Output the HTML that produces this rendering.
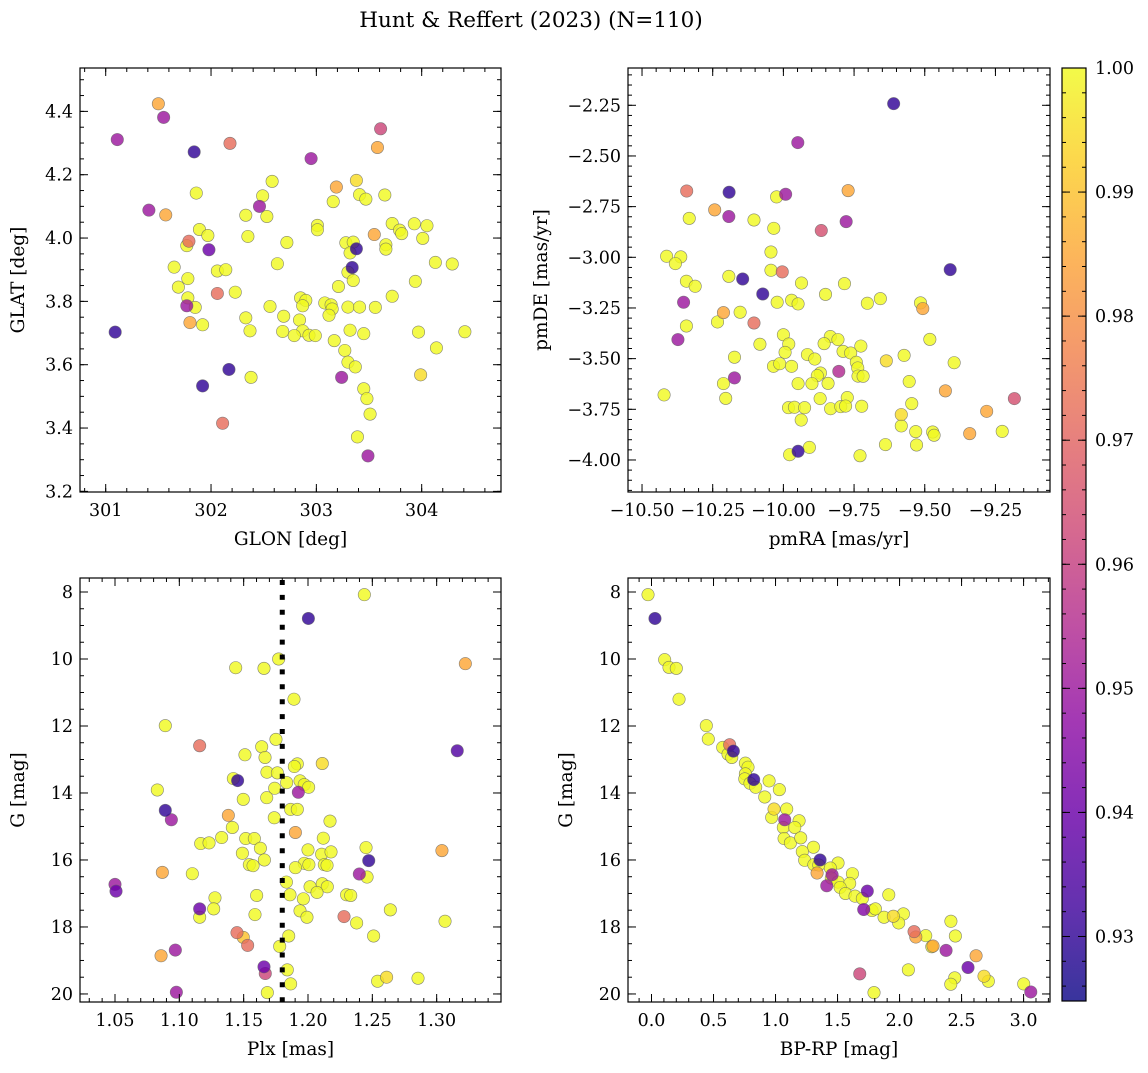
<!DOCTYPE html>
<html><head><meta charset="utf-8"><style>
html,body{margin:0;padding:0;background:#fff;}
svg text{font-family:"DejaVu Serif","Liberation Serif",serif;fill:#000;}
</style></head><body>
<svg id="fig" width="1148" height="1068" viewBox="0 0 1148 1068" xmlns="http://www.w3.org/2000/svg">
<rect width="1148" height="1068" fill="#fff"/>
<text x="531" y="27" font-size="21.5" text-anchor="middle">Hunt &amp; Reffert (2023) (N=110)</text>
<defs><linearGradient id="cmap" x1="0" y1="1" x2="0" y2="0"></linearGradient></defs>
</svg>
<script>
// ---- Panel 1: sky positions ----
const glon=[301.50,301.55,301.11,301.84,302.18,303.61,303.58,302.95,302.58,301.86,303.38,303.19,302.49,303.41,303.47,303.65,303.16,302.46,301.41,301.57,302.33,302.53,303.01,303.01,303.72,303.93,304.05,303.79,303.81,301.89,301.97,302.35,303.55,304.01,301.79,301.77,302.72,303.28,303.35,303.38,303.32,303.66,303.66,301.98,301.65,302.63,304.13,304.29,303.34,303.30,303.35,302.06,302.14,301.78,301.69,303.21,303.94,302.06,302.23,301.78,301.77,301.85,303.72,302.85,302.90,302.87,302.56,303.08,303.14,303.15,303.12,303.30,303.41,303.56,302.33,302.69,302.84,301.80,301.92,301.09,302.37,302.68,302.87,302.79,302.93,302.99,303.32,303.45,303.97,304.41,303.17,303.27,304.14,303.30,303.37,302.17,301.92,302.38,303.24,303.99,303.45,303.48,303.51,302.11,303.39,303.49];
const glat=[4.424,4.381,4.311,4.272,4.299,4.345,4.286,4.251,4.179,4.142,4.182,4.161,4.133,4.137,4.123,4.136,4.115,4.100,4.088,4.073,4.072,4.068,4.040,4.026,4.046,4.045,4.039,4.025,4.014,4.027,4.008,4.005,4.011,3.999,3.990,3.976,3.986,3.985,3.987,3.966,3.953,3.979,3.965,3.963,3.908,3.919,3.923,3.918,3.907,3.892,3.866,3.896,3.900,3.872,3.845,3.847,3.863,3.825,3.829,3.811,3.786,3.781,3.816,3.811,3.803,3.786,3.784,3.795,3.789,3.776,3.756,3.782,3.782,3.781,3.748,3.753,3.741,3.733,3.726,3.703,3.707,3.705,3.707,3.692,3.693,3.692,3.709,3.698,3.703,3.704,3.676,3.645,3.653,3.608,3.593,3.585,3.533,3.560,3.560,3.568,3.524,3.493,3.444,3.415,3.372,3.312];
const probSky=[0.985,0.95,0.95,0.93,0.972,0.962,0.985,0.95,1,1,0.995,0.985,1,1,1,1,1,0.95,0.95,0.985,1,1,1,1,1,1,1,1,1,1,1,1,0.985,1,0.972,1,1,1,1,0.93,1,1,1,0.94,1,1,1,1,0.93,1,1,1,1,1,1,1,1,0.972,1,1,0.95,1,1,1,1,1,1,1,1,1,1,1,1,1,1,1,1,0.985,1,0.93,1,1,1,1,1,1,1,1,1,1,1,1,1,1,1,0.93,0.93,1,0.95,0.995,1,1,1,0.972,1,0.95];
// ---- Panel 2: proper motions ----
const pmra=[-9.610,-9.949,-10.342,-10.192,-9.992,-10.024,-9.771,-10.243,-10.193,-10.333,-10.104,-10.034,-9.778,-9.866,-10.044,-10.413,-10.363,-10.382,-9.410,-10.044,-10.004,-10.193,-10.144,-10.343,-10.312,-9.936,-9.784,-10.073,-9.851,-10.353,-10.022,-9.971,-9.948,-9.703,-9.657,-9.515,-9.507,-10.212,-10.153,-10.233,-10.104,-10.343,-10.373,-9.482,-10.000,-9.981,-10.083,-9.994,-9.834,-9.856,-9.807,-9.789,-9.762,-9.726,-9.915,-9.889,-10.173,-10.035,-10.013,-9.971,-9.742,-9.737,-9.636,-9.573,-9.396,-9.804,-9.869,-9.880,-9.736,-9.718,-10.173,-10.212,-9.948,-9.899,-9.842,-9.555,-10.422,-9.427,-10.204,-9.870,-9.774,-9.183,-9.546,-9.982,-9.961,-9.925,-9.833,-9.797,-9.780,-9.723,-9.281,-9.583,-9.937,-9.583,-9.532,-9.472,-9.467,-9.341,-9.226,-9.639,-9.529,-9.908,-9.948,-9.978,-9.729];
const pmde=[-2.242,-2.434,-2.673,-2.679,-2.689,-2.702,-2.671,-2.766,-2.799,-2.808,-2.816,-2.857,-2.824,-2.868,-2.974,-2.995,-2.998,-3.031,-3.061,-3.064,-3.072,-3.094,-3.107,-3.118,-3.143,-3.127,-3.130,-3.181,-3.183,-3.222,-3.222,-3.212,-3.230,-3.227,-3.204,-3.225,-3.253,-3.273,-3.271,-3.319,-3.324,-3.339,-3.406,-3.405,-3.382,-3.428,-3.429,-3.469,-3.391,-3.426,-3.406,-3.464,-3.472,-3.438,-3.480,-3.502,-3.493,-3.538,-3.525,-3.538,-3.518,-3.546,-3.511,-3.484,-3.520,-3.563,-3.571,-3.584,-3.586,-3.587,-3.595,-3.623,-3.623,-3.623,-3.622,-3.613,-3.679,-3.659,-3.696,-3.697,-3.692,-3.697,-3.722,-3.742,-3.740,-3.742,-3.747,-3.737,-3.734,-3.735,-3.760,-3.776,-3.803,-3.832,-3.860,-3.862,-3.878,-3.870,-3.859,-3.924,-3.926,-3.938,-3.957,-3.974,-3.979];
const probPm=[0.93,0.95,0.972,0.93,0.95,1,0.985,0.985,0.95,1,1,1,0.95,0.965,1,1,1,1,0.93,1,0.972,1,0.93,1,1,1,1,0.93,1,0.95,1,1,1,1,1,1,0.985,0.985,1,1,0.972,1,0.95,1,1,1,1,1,1,1,1,1,1,1,1,1,1,1,1,1,1,1,0.995,1,1,0.955,1,1,1,1,0.95,1,1,1,1,1,1,0.985,1,1,1,0.965,1,1,1,1,1,1,1,1,0.985,0.995,1,1,1,1,1,0.985,1,1,1,1,0.93,1,1];
// ---- Panel 3: parallax vs G ----
const plx=[1.2438,1.2003,1.3223,1.1438,1.1658,1.1772,1.1891,1.0891,1.1751,1.1158,1.1640,1.1510,1.1666,1.3160,1.1917,1.1894,1.2111,1.1681,1.1762,1.1420,1.1453,1.1834,1.1938,1.1971,1.2005,1.1741,1.1925,1.0829,1.1679,1.1497,1.1865,1.1917,1.0891,1.0938,1.1381,1.1738,1.2171,1.1412,1.1902,1.1329,1.1516,1.1583,1.2119,1.1166,1.1231,1.1630,1.2451,1.1490,1.2000,1.2106,1.2179,1.3041,1.1661,1.2472,1.1544,1.1573,1.1971,1.2007,1.2127,1.2148,1.1902,1.0868,1.1101,1.2399,1.2459,1.1832,1.0500,1.0508,1.2016,1.2111,1.2150,1.2070,1.2300,1.2332,1.1601,1.1860,1.1277,1.1964,1.1158,1.1267,1.2640,1.1158,1.1588,1.1938,1.1992,1.2280,1.2378,1.3065,1.2510,1.1850,1.1448,1.1497,1.1531,1.1780,1.0969,1.0858,1.1658,1.1668,1.1839,1.2541,1.2611,1.2855,1.1865,1.0977,1.1684];
const gPlx=[8.08,8.79,10.14,10.26,10.28,10.00,11.20,11.99,12.40,12.59,12.62,12.86,12.94,12.74,13.13,13.21,13.12,13.38,13.40,13.57,13.63,13.69,13.64,13.75,13.83,13.86,13.98,13.91,14.14,14.19,14.49,14.49,14.52,14.80,14.67,14.74,14.84,15.03,15.18,15.33,15.36,15.36,15.35,15.51,15.49,15.65,15.63,15.80,15.70,15.83,15.76,15.72,16.00,16.02,16.14,16.17,16.10,16.14,16.14,16.16,16.23,16.37,16.41,16.42,16.51,16.66,16.73,16.93,16.80,16.71,16.80,16.97,17.04,17.06,17.06,17.04,17.13,17.16,17.46,17.46,17.49,17.71,17.63,17.52,17.71,17.69,17.88,17.83,18.27,18.27,18.17,18.31,18.55,18.58,18.69,18.86,19.19,19.39,19.28,19.62,19.50,19.53,19.70,19.95,19.96];
const probPlx=[1,0.93,0.985,1,1,1,1,1,1,0.972,1,1,1,0.935,1,1,0.995,1,1,1,0.93,1,1,1,1,1,0.95,1,1,1,1,1,0.93,0.95,0.985,1,1,1,0.985,1,1,1,1,1,1,1,1,1,1,1,1,0.985,1,0.93,1,1,1,1,1,1,1,0.985,1,0.95,1,1,0.95,0.94,1,1,1,1,1,1,1,1,1,1,0.94,1,1,1,1,1,1,0.972,1,1,1,1,0.972,0.99,0.972,1,0.95,0.985,0.94,0.962,1,1,0.995,1,1,0.95,1];
const plxRef=[1.18];
// ---- Panel 4: CMD ----
const bprp=[-0.028,0.028,0.106,0.141,0.200,0.222,0.442,0.458,0.630,0.660,0.574,0.617,0.647,0.757,0.778,0.757,0.824,0.752,0.794,0.840,0.948,1.031,0.913,0.988,1.090,1.074,0.969,1.190,1.063,1.155,1.069,1.120,1.203,1.306,1.216,1.235,1.359,1.309,1.349,1.504,1.442,1.335,1.456,1.620,1.450,1.413,1.504,1.598,1.521,1.564,1.740,1.641,1.700,1.913,1.711,1.778,1.805,1.875,1.950,2.031,1.993,2.414,2.117,2.131,2.211,2.450,2.270,2.260,2.375,2.617,2.552,1.679,2.071,2.445,2.413,2.681,2.716,3.001,3.058,1.794];
const gCmd=[8.08,8.79,10.02,10.25,10.28,11.20,11.99,12.39,12.56,12.75,12.64,12.84,12.94,13.11,13.23,13.43,13.60,13.58,13.71,13.83,13.64,13.90,14.12,14.48,14.48,14.80,14.73,14.83,15.03,15.03,15.36,15.49,15.34,15.62,15.75,16.01,16.00,16.14,16.15,16.09,16.24,16.39,16.44,16.41,16.54,16.77,16.66,16.70,16.82,17.00,16.93,17.08,17.15,17.04,17.48,17.51,17.46,17.71,17.68,17.61,17.88,17.83,18.14,18.30,18.26,18.27,18.57,18.59,18.70,18.86,19.21,19.40,19.28,19.52,19.71,19.47,19.62,19.70,19.94,19.96];
const probCmd=[1,0.93,1,1,1,1,1,1,0.972,0.93,1,1,1,1,1,1,0.93,1,1,1,1,1,1,0.995,1,0.95,1,1,1,1,1,1,1,1,1,1,0.93,1,1,1,1,0.985,0.95,1,1,0.95,1,1,1,1,0.94,1,1,1,0.945,1,1,1,0.995,1,1,1,0.972,0.985,1,1,0.985,1,0.95,0.985,0.94,0.962,1,1,1,0.995,1,1,0.95,1];
// ---- tick labels ----
const tlX=["301","302","303","304"], tlXv=[301,302,303,304];
const tlY=["3.2","3.4","3.6","3.8","4.0","4.2","4.4"], tlYv=[3.2,3.4,3.6,3.8,4.0,4.2,4.4];
const trX=["\u221210.50","\u221210.25","\u221210.00","\u22129.75","\u22129.50","\u22129.25"], trXv=[-10.5,-10.25,-10.0,-9.75,-9.5,-9.25];
const trY=["\u22124.00","\u22123.75","\u22123.50","\u22123.25","\u22123.00","\u22122.75","\u22122.50","\u22122.25"], trYv=[-4,-3.75,-3.5,-3.25,-3,-2.75,-2.5,-2.25];
const blX=["1.05","1.10","1.15","1.20","1.25","1.30"], blXv=[1.05,1.10,1.15,1.20,1.25,1.30];
const gY=["8","10","12","14","16","18","20"], gYv=[8,10,12,14,16,18,20];
const brX=["0.0","0.5","1.0","1.5","2.0","2.5","3.0"], brXv=[0,0.5,1,1.5,2,2.5,3];
const cbL=["0.93","0.94","0.95","0.96","0.97","0.98","0.99","1.00"], cbV=[0.93,0.94,0.95,0.96,0.97,0.98,0.99,1.00];
const vmin=0.9248, vmax=1.0;

const NS="http://www.w3.org/2000/svg";
const svg=document.getElementById('fig');
const TF=17.5, LF=18.5;
function mk(tag,attrs,parent){const e=document.createElementNS(NS,tag);for(const k in attrs)e.setAttribute(k,attrs[k]);(parent||svg).appendChild(e);return e;}
const stops=[[13,8,135],[65,4,157],[106,0,168],[143,13,164],[177,42,144],[204,71,120],[225,100,98],[242,132,75],[252,166,54],[252,206,37],[240,249,33]];
function plasma(t){t=Math.max(0,Math.min(1,t));const f=t*10,i=Math.min(9,Math.floor(f)),r=f-i;const a=stops[i],b=stops[i+1];
 return 'rgb('+a.map((v,k)=>Math.round(v+(b[k]-v)*r)).join(',')+')';}
const grad=document.getElementById('cmap');
for(let i=0;i<=10;i++){const s=document.createElementNS(NS,'stop');s.setAttribute('offset',i/10);s.setAttribute('stop-color',plasma(i/10));s.setAttribute('stop-opacity','0.82');grad.appendChild(s);}

function panel(cfg){
 const [x0,y0,w,h]=cfg.box;
 const g=mk('g',{});
 
 
 const sx=v=>x0+(v-cfg.xlim[0])/(cfg.xlim[1]-cfg.xlim[0])*w;
 const sy=v=>y0+h-(v-cfg.ylim[0])/(cfg.ylim[1]-cfg.ylim[0])*h;
 const idx=cfg.xs.map((_,i)=>i).sort((a,b)=>cfg.ps[b]-cfg.ps[a]);
 const pg=mk('g',{},g);
 
 
 idx.forEach(i=>{
  const c=mk('circle',{cx:sx(cfg.xs[i]),cy:sy(cfg.ys[i]),r:6.2,fill:plasma((cfg.ps[i]-vmin)/(vmax-vmin)),'fill-opacity':0.82,stroke:'#666','stroke-width':0.6,'stroke-opacity':0.8},pg);
  
  
 });
 if(cfg.vline){cfg.vline.forEach(v=>{
  const l=mk('line',{x1:sx(v),x2:sx(v),y1:y0+2,y2:y0+h,stroke:'#000','stroke-width':5,'stroke-dasharray':'5 9.9'},g);
  
  
 });}
 const fr=mk('rect',{x:x0,y:y0,width:w,height:h,fill:'none',stroke:'#000','stroke-width':1.2},g);
 
 
 const tg=mk('g',{stroke:'#000','stroke-width':1},g);
 function range(lim,step){const lo=Math.min(lim[0],lim[1]),hi=Math.max(lim[0],lim[1]);const a=[];for(let k=Math.ceil(lo/step-1e-6);k*step<=hi+1e-9;k++)a.push(k*step);return a;}
 range(cfg.xlim,cfg.xminor).forEach(v=>{const X=sx(v);mk('line',{x1:X,x2:X,y1:y0+h,y2:y0+h-4},tg);mk('line',{x1:X,x2:X,y1:y0,y2:y0+4},tg);});
 range(cfg.ylim,cfg.yminor).forEach(v=>{const Y=sy(v);mk('line',{x1:x0,x2:x0+4,y1:Y,y2:Y},tg);mk('line',{x1:x0+w,x2:x0+w-4,y1:Y,y2:Y},tg);});
 cfg.xv.forEach((v,i)=>{const X=sx(v);mk('line',{x1:X,x2:X,y1:y0+h,y2:y0+h-8},tg);mk('line',{x1:X,x2:X,y1:y0,y2:y0+8},tg);
  const t=mk('text',{x:X,y:y0+h+24,'font-size':TF,'text-anchor':'middle'},g);t.textContent=cfg.xl[i];
  
  });
 cfg.yv.forEach((v,i)=>{const Y=sy(v);mk('line',{x1:x0,x2:x0+8,y1:Y,y2:Y},tg);mk('line',{x1:x0+w,x2:x0+w-8,y1:Y,y2:Y},tg);
  const t=mk('text',{x:x0-7,y:Y+6,'font-size':TF,'text-anchor':'end'},g);t.textContent=cfg.yl[i];
  
  });
 const xt=mk('text',{x:x0+w/2,y:y0+h+53,'font-size':LF,'text-anchor':'middle'},g);xt.textContent=cfg.xtitle;
 
 
 const yt=mk('text',{x:0,y:0,'font-size':LF,'text-anchor':'middle',transform:`translate(${cfg.ytx},${y0+h/2}) rotate(-90)`},g);yt.textContent=cfg.ytitle;
 
 
}
panel({name:'sky-panel',box:[80,68,421,424],xlim:[300.756,304.753],ylim:[3.198,4.537],xs:glon,ys:glat,ps:probSky,xv:tlXv,xl:tlX,yv:tlYv,yl:tlY,xminor:0.2,yminor:0.05,xtitle:'GLON [deg]',ytitle:'GLAT [deg]',ytx:24});
panel({name:'proper-motion-panel',box:[628,68,422,424],xlim:[-10.5496,-9.057],ylim:[-4.158,-2.066],xs:pmra,ys:pmde,ps:probPm,xv:trXv,xl:trX,yv:trYv,yl:trY,xminor:0.05,yminor:0.05,xtitle:'pmRA [mas/yr]',ytitle:'pmDE [mas/yr]',ytx:547});
panel({name:'parallax-panel',box:[80,578,421,424],xlim:[1.0228,1.35],ylim:[20.24,7.582],xs:plx,ys:gPlx,ps:probPlx,xv:blXv,xl:blX,yv:gYv,yl:gY,xminor:0.01,yminor:0.5,xtitle:'Plx [mas]',ytitle:'G [mag]',ytx:24,vline:plxRef});
panel({name:'cmd-panel',box:[628,578,422,424],xlim:[-0.1895,3.213],ylim:[20.24,7.582],xs:bprp,ys:gCmd,ps:probCmd,xv:brXv,xl:brX,yv:gYv,yl:gY,xminor:0.1,yminor:0.5,xtitle:'BP-RP [mag]',ytitle:'G [mag]',ytx:572});

(function(){
 const x0=1062,y0=68,w=24,h=933;
 const g=mk('g',{});
 
 
 mk('rect',{x:x0,y:y0,width:w,height:h,fill:'url(#cmap)'},g);
 mk('rect',{x:x0,y:y0,width:w,height:h,fill:'none',stroke:'#000','stroke-width':1.2},g);
 const sy=v=>y0+h-(v-vmin)/(vmax-vmin)*h;
 for(let k=Math.ceil(vmin/0.002);k*0.002<=vmax+1e-9;k++){const Y=sy(k*0.002);mk('line',{x1:x0+w,x2:x0+w-4,y1:Y,y2:Y,stroke:'#000'},g);mk('line',{x1:x0,x2:x0+4,y1:Y,y2:Y,stroke:'#000'},g);}
 cbV.forEach((v,i)=>{const Y=sy(v);mk('line',{x1:x0+w,x2:x0+w-8,y1:Y,y2:Y,stroke:'#000'},g);mk('line',{x1:x0,x2:x0+8,y1:Y,y2:Y,stroke:'#000'},g);
  const t=mk('text',{x:x0+w+9,y:Y+6,'font-size':TF},g);t.textContent=cbL[i];
  
  });
})();
</script>
</body></html>
